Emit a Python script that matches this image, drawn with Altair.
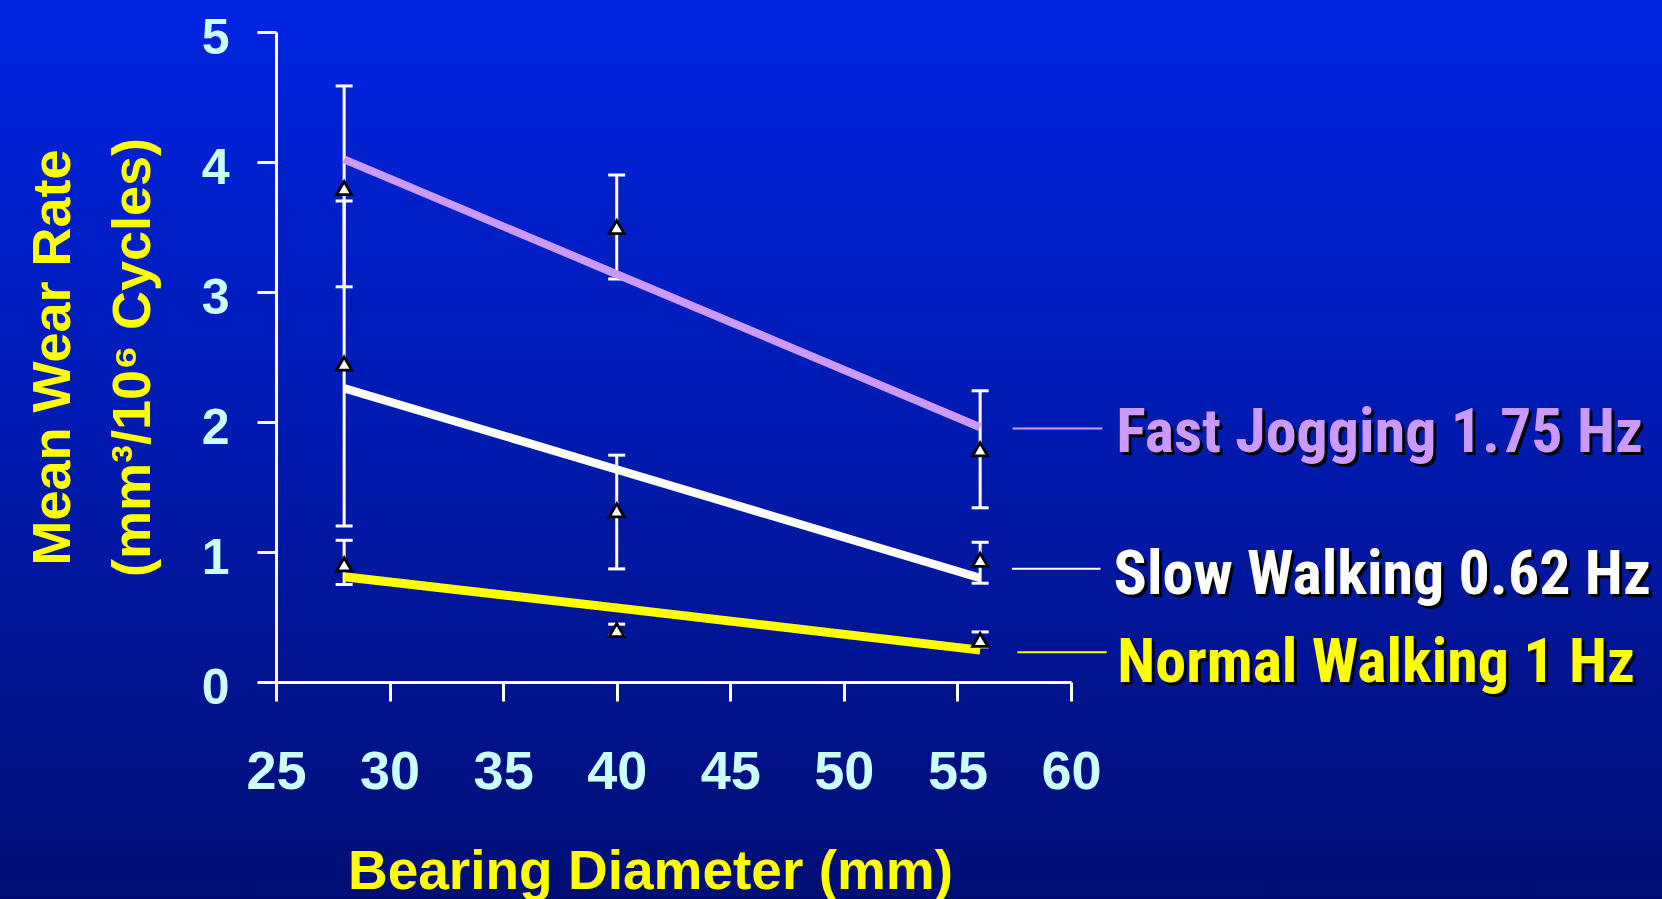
import altair as alt
import pandas as pd

# ---- data ----
diameters = [28, 40, 56]
series_names = ["Fast Jogging 1.75 Hz", "Slow Walking 0.62 Hz", "Normal Walking 1 Hz"]
series_colors = ["#CC99FF", "#FFFFFF", "#FFFF00"]
line_widths = [8, 9, 6.5]

fj_mean = [3.80, 3.50, 1.79]
fj_lo = [3.04, 3.10, 1.34]
fj_hi = [4.585, 3.90, 2.24]
fj_fit = [4.02, 3.137, 1.96]

sw_mean = [2.45, 1.32, 0.94]
sw_lo = [1.20, 0.87, 0.76]
sw_hi = [3.70, 1.745, 1.075]
sw_fit = [2.26, 1.635, 0.80]

nw_mean = [0.905, 0.40, 0.325]
nw_lo = [0.75, 0.355, 0.27]
nw_hi = [1.09, 0.445, 0.385]
nw_fit = [0.81, 0.57, 0.245]

x_ticks = [25, 30, 35, 40, 45, 50, 55, 60]
y_ticks = [0, 1, 2, 3, 4, 5]

# legend annotation placement (data units)
legend_seg_x1 = [57.43, 57.40, 57.64]
legend_seg_x2 = [61.38, 61.30, 61.57]
legend_text_x = [61.99, 61.87, 62.04]
legend_seg_y = [1.95, 0.872, 0.228]
legend_text_y = [1.946, 0.855, 0.180]

# ---- tables ----
rows = []
for name, m, lo, hi, fit in [
    (series_names[0], fj_mean, fj_lo, fj_hi, fj_fit),
    (series_names[1], sw_mean, sw_lo, sw_hi, sw_fit),
    (series_names[2], nw_mean, nw_lo, nw_hi, nw_fit),
]:
    for i, d in enumerate(diameters):
        rows.append({"series": name, "d": d, "mean": m[i], "lo": lo[i], "hi": hi[i], "fit": fit[i]})
df = pd.DataFrame(rows)
caps = pd.concat([
    df[["series", "d", "lo"]].rename(columns={"lo": "cap"}),
    df[["series", "d", "hi"]].rename(columns={"hi": "cap"}),
])
leg = pd.DataFrame({
    "label": series_names, "col": series_colors,
    "sx1": legend_seg_x1, "sx2": legend_seg_x2, "tx": legend_text_x,
    "sy": legend_seg_y, "ty": legend_text_y,
})

W, H = 795, 650
PAD = {"left": 276, "top": 32, "right": 591, "bottom": 217}

BOLD = "Liberation Sans"
NARROW = "Roboto Condensed, DejaVu Sans Condensed, Liberation Sans Narrow"
CYAN = "#CCFFFF"
YELLOW = "#FFFF00"

xscale = alt.Scale(domain=[25, 60], nice=False, zero=False)
yscale = alt.Scale(domain=[0, 5], nice=False, zero=False)

xaxis = alt.Axis(
    values=x_ticks, title="Bearing Diameter (mm)", grid=False, zindex=1,
    domainColor="white", domainWidth=3, tickColor="white", tickWidth=3, tickSize=19,
    labelFont=BOLD, labelFontWeight="bold", labelFontSize=54, labelColor=CYAN,
    labelBaseline="alphabetic", labelPadding=87, labelFlush=False, labelOverlap=False,
    titleFont=BOLD, titleFontWeight="bold", titleFontSize=55, titleColor=YELLOW,
    titleX=374, titleY=206, titleBaseline="alphabetic", titleAlign="center",
)
yaxis = alt.Axis(
    values=y_ticks, title=["Mean Wear Rate", "(mm³/10⁶ Cycles)"], grid=False, zindex=1,
    domainColor="white", domainWidth=3, tickColor="white", tickWidth=3, tickSize=19,
    labelFont=BOLD, labelFontWeight="bold", labelFontSize=50, labelColor=CYAN,
    labelPadding=28, labelOffset=6, labelFlush=False, labelOverlap=False,
    titleFont=BOLD, titleFontWeight="bold", titleFontSize=54, titleColor=YELLOW,
    titleAngle=270, titleX=-207, titleY=325, titleBaseline="alphabetic",
    titleAlign="center", titleLineHeight=80,
)

def X(f):
    return alt.X(f"{f}:Q", scale=xscale, axis=xaxis)

def Y(f):
    return alt.Y(f"{f}:Q", scale=yscale, axis=yaxis)

grad = alt.LinearGradient(
    gradient="linear",
    stops=[
        alt.GradientStop(offset=0, color="#0024E2"),
        alt.GradientStop(offset=0.5, color="#001AAE"),
        alt.GradientStop(offset=1, color="#000E74"),
    ],
    x1=0, x2=0, y1=0, y2=1,
)

bg = alt.Chart(pd.DataFrame({"a": [0]})).mark_rect(color=grad).encode(
    x=alt.value(-PAD["left"]), x2=alt.value(W + PAD["right"]),
    y=alt.value(-PAD["top"]), y2=alt.value(H + PAD["bottom"]),
)

bars = alt.Chart(df).mark_rule(color="white", strokeWidth=3).encode(
    x=X("d"), y=Y("lo"), y2="hi:Q"
)
cap_marks = alt.Chart(caps).mark_tick(
    orient="horizontal", color="white", size=17, thickness=3, opacity=1
).encode(x=X("d"), y=Y("cap"))

lines = alt.Chart(df).mark_line(strokeCap="butt").encode(
    x=X("d"), y=Y("fit"),
    color=alt.Color("series:N", scale=alt.Scale(domain=series_names, range=series_colors), legend=None),
    strokeWidth=alt.StrokeWidth("series:N", scale=alt.Scale(domain=series_names, range=line_widths), legend=None),
    detail="series:N",
)

pts = alt.Chart(df).mark_point(
    shape="triangle-up", filled=True, fill="white", stroke="black",
    strokeWidth=2.8, size=230, opacity=1,
).encode(x=X("d"), y=Y("mean"))

leg_lines = alt.Chart(leg).mark_rule(strokeWidth=2).encode(
    x=X("sx1"), x2="sx2:Q", y=Y("sy"),
    stroke=alt.Stroke("col:N", scale=None),
)
leg_shadow = alt.Chart(leg).mark_text(
    align="left", baseline="middle", font=NARROW, fontWeight="bold", fontSize=62,
    dx=3, dy=7, color="black",
).encode(x=X("tx"), y=Y("ty"), text="label:N")
leg_text = alt.Chart(leg).mark_text(
    align="left", baseline="middle", font=NARROW, fontWeight="bold", fontSize=62,
    dx=0, dy=4,
).encode(x=X("tx"), y=Y("ty"), text="label:N", fill=alt.Fill("col:N", scale=None))

chart = alt.layer(
    bg, bars, cap_marks, lines, pts, leg_lines, leg_shadow, leg_text
).properties(
    width=W, height=H, padding=PAD,
    autosize=alt.AutoSizeParams(type="none"),
    background="#000E74",
).configure_view(stroke=None)

chart.save("out.html", embed_options={"renderer": "svg", "actions": False})
